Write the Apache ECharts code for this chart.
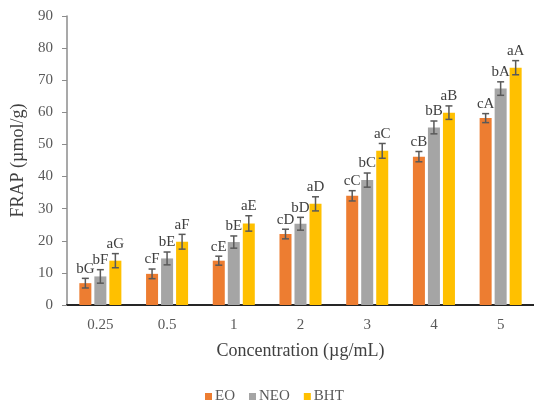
<!DOCTYPE html>
<html>
<head>
<meta charset="utf-8">
<script src="https://cdn.jsdelivr.net/npm/echarts@6/dist/echarts.min.js"></script>
<style>html,body{margin:0;padding:0;background:#fff}#c{width:534px;height:404px}</style>
</head>
<body>
<div id="c"></div>
<script>
const categories = ['0.25', '0.5', '1', '2', '3', '4', '5'];
const eo  = [6.8, 9.7, 13.8, 22.1, 34.0, 46.2, 58.2];
const neo = [8.9, 14.5, 19.6, 25.3, 38.9, 55.3, 67.4];
const bht = [13.8, 19.7, 25.4, 31.5, 48.0, 59.9, 73.9];
const eoErr  = [1.5, 1.5, 1.4, 1.5, 1.6, 1.6, 1.4];
const neoErr = [2.1, 2.0, 1.9, 2.0, 2.2, 2.0, 2.1];
const bhtErr = [2.2, 2.3, 2.4, 2.2, 2.3, 2.1, 2.2];
const eoLetters  = ['bG', 'cF', 'cE', 'cD', 'cC', 'cB', 'cA'];
const neoLetters = ['bF', 'bE', 'bE', 'bD', 'bC', 'bB', 'bA'];
const bhtLetters = ['aG', 'aF', 'aE', 'aD', 'aC', 'aB', 'aA'];
const yTicks = [0, 10, 20, 30, 40, 50, 60, 70, 80, 90];

const names = ['EO', 'NEO', 'BHT'];
const colors = ['#ED7D31', '#A5A5A5', '#FFC000'];
const values = [eo, neo, bht];
const errs = [eoErr, neoErr, bhtErr];
const letters = [eoLetters, neoLetters, bhtLetters];

const BAR_W = 0.18, BAR_GAP = 0.25;
const FONT = '"Liberation Serif", "Times New Roman", serif';

function errRenderer(k) {
  return function (params, api) {
    const ci = api.value(0), v = api.value(1), e = api.value(2);
    const band = api.size([1, 0])[0];
    const off = (k - 1) * band * BAR_W * (1 + BAR_GAP);
    const top = api.coord([ci, v + e]);
    const bot = api.coord([ci, v - e]);
    const x = top[0] + off;
    const cap = 3.5;
    const ls = { stroke: '#595959', lineWidth: 1.5 };
    return {
      type: 'group',
      children: [
        { type: 'line', shape: { x1: x, y1: top[1], x2: x, y2: bot[1] }, style: ls },
        { type: 'line', shape: { x1: x - cap, y1: top[1], x2: x + cap, y2: top[1] }, style: ls },
        { type: 'line', shape: { x1: x - cap, y1: bot[1], x2: x + cap, y2: bot[1] }, style: ls },
        { type: 'text', style: { text: letters[k][params.dataIndex], x: x, y: top[1] - 2,
            align: 'center', verticalAlign: 'bottom', fill: '#404040',
            font: '15px ' + FONT } }
      ]
    };
  };
}

const series = [];
names.forEach((n, k) => {
  series.push({
    name: n, type: 'bar', data: values[k], barWidth: (BAR_W * 100) + '%', barGap: (BAR_GAP * 100) + '%',
    itemStyle: { color: colors[k] }, z: 2
  });
});
names.forEach((n, k) => {
  series.push({
    type: 'custom', name: n + ' err', renderItem: errRenderer(k), clip: false, z: 5,
    encode: { x: 0, y: 1 },
    data: values[k].map((v, i) => [i, v, errs[k][i]])
  });
});

const chart = echarts.init(document.getElementById('c'), null, { renderer: 'canvas' });
chart.setOption({
  animation: false,
  textStyle: { fontFamily: FONT },
  grid: { left: 67, right: -4, top: 16, bottom: 99, containLabel: false },
  legend: {
    data: names, bottom: 0, left: 205, padding: 0, icon: 'rect', itemWidth: 7, itemHeight: 7, itemGap: 14,
    textStyle: { fontFamily: FONT, fontSize: 15, color: '#595959', padding: [0, 0, 0, -2] }
  },
  xAxis: {
    type: 'category', data: categories,
    name: 'Concentration (µg/mL)', nameLocation: 'middle', nameGap: 37,
    nameTextStyle: { fontFamily: FONT, fontSize: 18, color: '#404040' },
    axisLine: { lineStyle: { color: '#262626', width: 2 } },
    axisTick: { alignWithLabel: true, length: 4, lineStyle: { color: '#262626' } },
    axisLabel: { fontFamily: FONT, fontSize: 15, color: '#595959', margin: 13 }
  },
  yAxis: {
    type: 'value', min: yTicks[0], max: yTicks[yTicks.length - 1], interval: 10,
    name: 'FRAP (µmol/g)', nameLocation: 'middle', nameGap: 34,
    nameTextStyle: { fontFamily: FONT, fontSize: 18, color: '#404040' },
    axisLine: { show: true, lineStyle: { color: '#8c8c8c', width: 1.5 } },
    axisTick: { show: true, length: 5, lineStyle: { color: '#8c8c8c' } },
    splitLine: { show: false },
    axisLabel: { fontFamily: FONT, fontSize: 15, color: '#595959', margin: 14 }
  },
  series: series
});
</script>
</body>
</html>
